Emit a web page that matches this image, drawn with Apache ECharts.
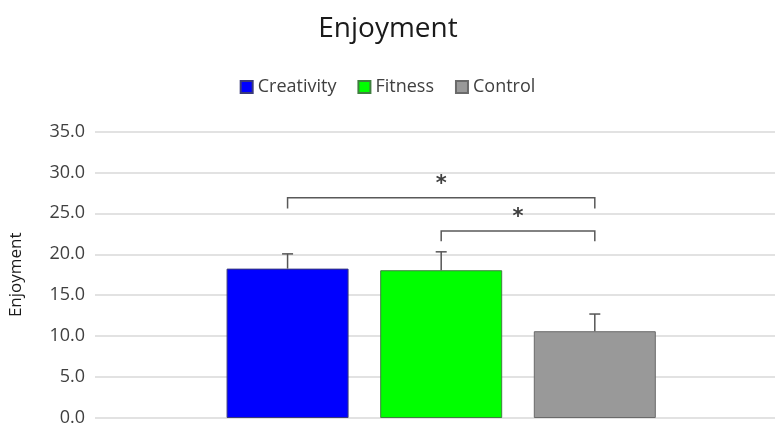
<!DOCTYPE html>
<html>
<head>
<meta charset="utf-8">
<script src="https://cdn.jsdelivr.net/npm/echarts@6/dist/echarts.min.js"></script>
<style>
  html, body { margin: 0; padding: 0; background: #fff; }
  #enjoyment { width: 775px; height: 427px; }
</style>
</head>
<body>
<div id="enjoyment"></div>
<script>
// 数据
var groups = ['Creativity', 'Fitness', 'Control'];
var groupPos = [1, 2, 3];
var means = [18.25, 18.05, 10.6];
var upper = [20.05, 20.3, 12.7];
var barColors = ['#0000ff', '#00ff00', '#999999'];
var barBorders = ['#3a3a7a', '#3f7f3f', '#6a6a6a'];
var yTicks = [0, 5, 10, 15, 20, 25, 30, 35];
// 显著性标记: [from, to, top, bottom]
var brackets = [[1, 3, 26.9, 25.6], [2, 3, 22.85, 21.6]];
var bracketMarks = ['*', '*'];

var chart = echarts.init(document.getElementById('enjoyment'));

var series = [];
for (var i = 0; i < groups.length; i++) {
    series.push({
        name: groups[i],
        type: 'bar',
        barWidth: 122,
        barGap: '-100%',
        data: [[groupPos[i], means[i]]],
        itemStyle: {
            color: barColors[i],
            borderColor: barBorders[i],
            borderWidth: 1
        },
        z: 2
    });
}

// 误差线
series.push({
    type: 'custom',
    name: 'err',
    data: groupPos.map(function (p, i) { return [p, means[i], upper[i]]; }),
    renderItem: function (params, api) {
        var lo = api.coord([api.value(0), api.value(1)]);
        var hi = api.coord([api.value(0), api.value(2)]);
        var s = { stroke: '#555', lineWidth: 1.5 };
        return {
            type: 'group',
            children: [
                { type: 'line', shape: { x1: lo[0], y1: lo[1], x2: hi[0], y2: hi[1] }, style: s },
                { type: 'line', shape: { x1: hi[0] - 5.5, y1: hi[1], x2: hi[0] + 5.5, y2: hi[1] }, style: s }
            ]
        };
    },
    z: 3
});

// 括号
series.push({
    type: 'custom',
    name: 'sig',
    data: brackets,
    renderItem: function (params, api) {
        var a = api.coord([api.value(0), api.value(3)]);
        var b = api.coord([api.value(0), api.value(2)]);
        var c = api.coord([api.value(1), api.value(2)]);
        var d = api.coord([api.value(1), api.value(3)]);
        return {
            type: 'group',
            children: [
                {
                    type: 'polyline',
                    shape: { points: [a, b, c, d] },
                    style: { stroke: '#595959', lineWidth: 1.5, fill: null }
                },
                {
                    type: 'text',
                    style: {
                        text: bracketMarks[params.dataIndex],
                        x: (b[0] + c[0]) / 2,
                        y: b[1] - 3,
                        align: 'center',
                        verticalAlign: 'bottom',
                        fontSize: 21,
                        fontWeight: 'bold',
                        fontFamily: 'DejaVu Sans',
                        fill: '#404040'
                    }
                }
            ]
        };
    },
    z: 4
});

var option = {
    animation: false,
    title: {
        text: 'Enjoyment',
        left: 383,
        top: 10,
        textAlign: 'center',
        textStyle: {
            fontFamily: 'Open Sans',
            fontSize: 28,
            fontWeight: 'normal',
            color: '#1a1a1a'
        }
    },
    legend: {
        data: groups,
        top: 73,
        left: 'center',
        icon: 'rect',
        itemWidth: 12,
        itemHeight: 12,
        itemGap: 21,
        textStyle: {
            fontFamily: 'Open Sans',
            fontSize: 18,
            color: '#404040'
        }
    },
    grid: {
        left: 90,
        right: 0,
        top: 131.5,
        bottom: 6.5
    },
    xAxis: {
        type: 'value',
        min: -0.2536,
        max: 4.173,
        show: false
    },
    yAxis: {
        type: 'value',
        min: 0,
        max: 35,
        interval: 5,
        name: 'Enjoyment',
        nameLocation: 'middle',
        nameGap: 70,
        nameTextStyle: {
            fontFamily: 'Open Sans',
            fontSize: 17,
            color: '#1a1a1a'
        },
        axisLine: { show: false },
        axisTick: { show: false },
        axisLabel: {
            fontFamily: 'Open Sans',
            fontSize: 18,
            color: '#404040',
            margin: 10,
            formatter: function (v) { return v.toFixed(1); }
        },
        splitLine: {
            show: true,
            lineStyle: { color: '#d9d9d9', width: 1.5 }
        }
    },
    series: series
};
chart.setOption(option);
</script>
</body>
</html>
